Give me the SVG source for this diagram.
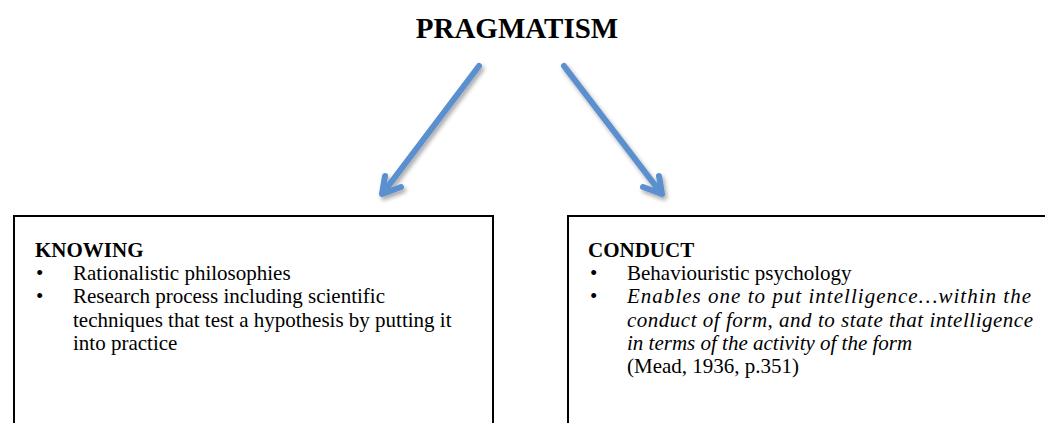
<svg xmlns="http://www.w3.org/2000/svg" width="1045" height="423" viewBox="0 0 1045 423">
<defs>
<style>
text{font-family:"Liberation Serif","Times New Roman",serif;fill:#000;font-size:21px}
.title{font-size:29px;font-weight:bold}
.head{font-weight:bold}
.it{font-style:italic}
.box{fill:#fff;stroke:#000;stroke-width:2}
.arrow{fill:none;stroke:#5b8fcd;stroke-width:6;stroke-linecap:round;stroke-linejoin:round}
</style>
<filter id="sh" x="-30%" y="-30%" width="160%" height="160%">
<feDropShadow dx="2" dy="3" stdDeviation="2" flood-color="#000" flood-opacity="0.35"/>
</filter>
</defs>
<rect width="1045" height="423" fill="#fff"/>
<g id="title">
<text class="title" x="517" y="38" text-anchor="middle">PRAGMATISM</text>
</g>
<g id="connectors" filter="url(#sh)">
<path class="arrow" d="M479,66 L383,193"/>
<path class="arrow" d="M385,176 L382,194 L401,187"/>
<path class="arrow" d="M564,66 L661,193"/>
<path class="arrow" d="M659,176 L662,194 L643,187"/>
</g>
<g id="knowing">
<rect class="box" x="14" y="216" width="479" height="220"/>
<text class="head" x="35" y="257">KNOWING</text>
<text x="36" y="280">•</text><text x="73" y="280">Rationalistic philosophies</text>
<text x="36" y="303">•</text><text x="73" y="303">Research process including scientific</text>
<text x="73" y="327">techniques that test a hypothesis by putting it</text>
<text x="73" y="350">into practice</text>
</g>
<g id="conduct">
<rect class="box" x="568" y="216" width="490" height="220"/>
<text class="head" x="588" y="257">CONDUCT</text>
<text x="590" y="280">•</text><text x="627" y="280">Behaviouristic psychology</text>
<text x="590" y="303">•</text><text class="it" x="627" y="303" textLength="404" lengthAdjust="spacing">Enables one to put intelligence…within the</text>
<text class="it" x="627" y="327" textLength="406" lengthAdjust="spacing">conduct of form, and to state that intelligence</text>
<text class="it" x="627" y="350">in terms of the activity of the form</text>
<text x="627" y="373">(Mead, 1936, p.351)</text>
</g>
</svg>
